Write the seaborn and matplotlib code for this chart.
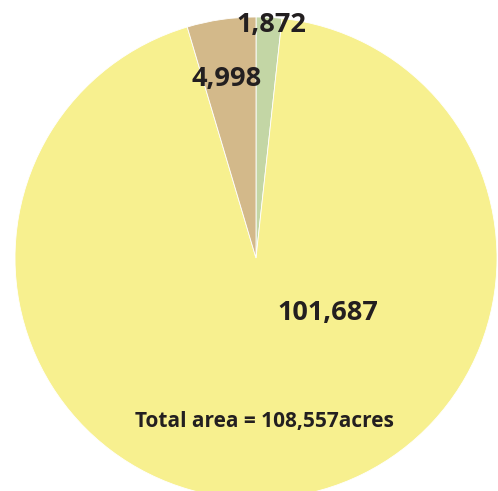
import matplotlib
matplotlib.use("Agg")
import matplotlib.pyplot as plt
import seaborn as sns

# Data
categories = ["Green", "Yellow", "Tan"]
values = [1872, 101687, 4998]
value_labels = ["1,872", "101,687", "4,998"]
total_label = "Total area = 108,557acres"

sns.set_theme(style="white")
plt.rcParams['font.family'] = ['Open Sans', 'DejaVu Sans']

colors = ["#C3D6A5", "#F7F08F", "#D3B98A"]

W, H = 498, 491
fig = plt.figure(figsize=(W / 100, H / 100), dpi=100)
ax = fig.add_axes([0, 0, 1, 1])
ax.set_xlim(0, W)
ax.set_ylim(0, H)
ax.set_aspect("equal")
ax.axis("off")

cx, cy_pix, r = 256, 258, 241
ax.pie(values, colors=colors, startangle=90, counterclock=False,
       center=(cx, H - cy_pix), radius=r, frame=True,
       wedgeprops=dict(edgecolor="white", linewidth=0.6))
ax.set_xlim(0, W)
ax.set_ylim(0, H)
ax.axis("off")

txt = dict(color="#231F20", fontweight="bold", ha="center", va="center")
label_pos = {"1,872": (271, 25), "101,687": (328, 313), "4,998": (227, 79)}
for lab in value_labels:
    x, y = label_pos[lab]
    ax.text(x, H - y, lab, fontsize=19.5, **txt)
ax.text(264, H - 421, total_label, fontsize=15, **txt)

fig.savefig("out.png", dpi=100)
